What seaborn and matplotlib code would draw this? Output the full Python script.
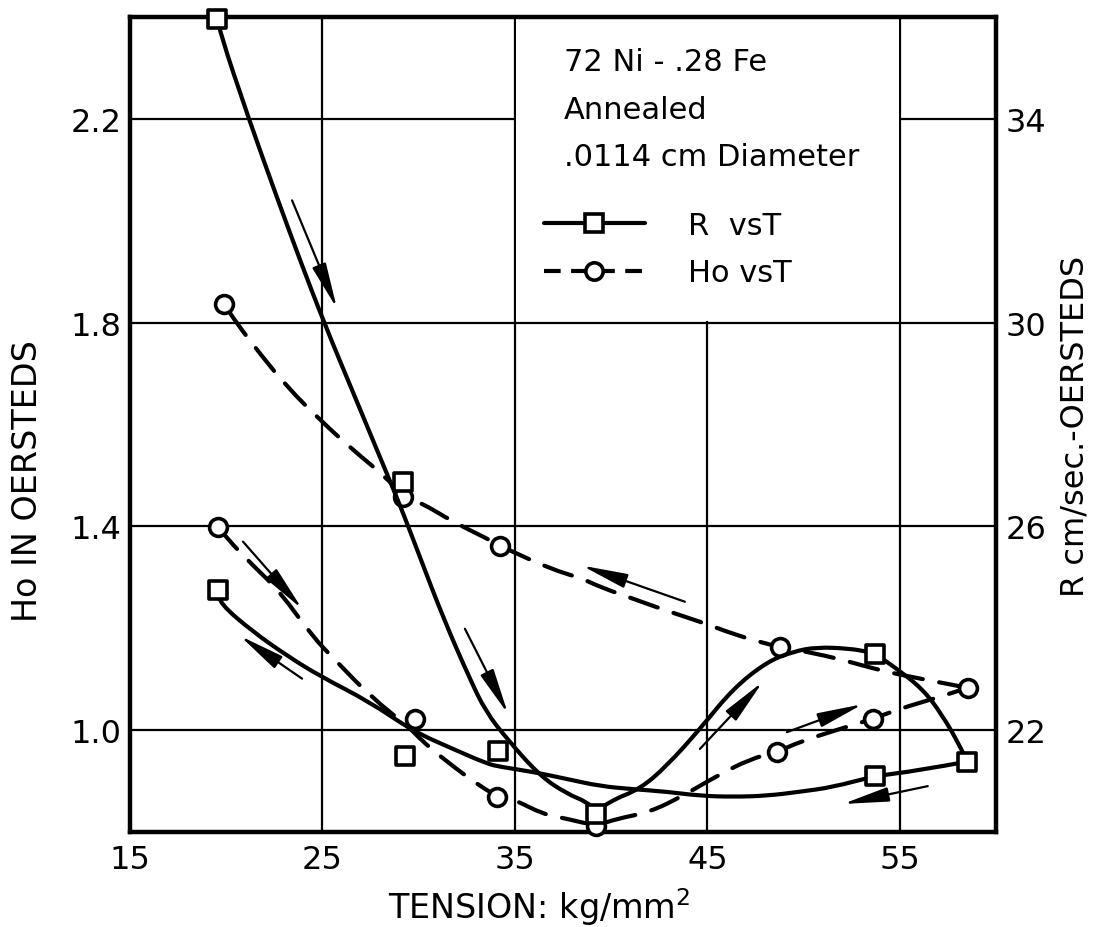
"""
Coercive force Ho and R against tension for annealed 72 Ni - .28 Fe wire.
"""
import seaborn as sns
import matplotlib.pyplot as plt
from matplotlib.lines import Line2D
from matplotlib.patches import Rectangle, PathPatch
from matplotlib.path import Path

# R (cm/sec.-oersteds) measured points, the squares
r_pts_t = [19.52, 29.18, 39.21, 53.70, 58.48, 53.70, 34.10, 29.30, 19.57]
r_pts_r = [35.97, 26.88, 20.35, 23.50, 21.38, 21.10, 21.59, 21.49, 24.75]

# Ho (oersteds) measured points, the circles
h_pts_t = [19.88, 29.18, 34.22, 48.77, 58.53, 19.57, 29.80, 34.07, 39.21, 48.61, 53.60]
h_pts_h = [1.837, 1.458, 1.362, 1.163, 1.083, 1.399, 1.022, 0.869, 0.812, 0.957, 1.022]

# hand drawn R curve: falling branch, hump, return branch
r_down_t = [19.52, 19.65, 21.16, 22.65, 23.80, 25.08, 26.72, 28.45, 29.16, 30.10,
            31.30, 32.65, 33.49, 34.58, 36.30, 37.70, 38.74, 39.21]
r_down_r = [35.97, 35.72, 34.01, 32.44, 31.26, 30.00, 28.51, 26.94, 26.29, 25.36,
            24.18, 23.01, 22.36, 21.83, 21.10, 20.75, 20.59, 20.41]
r_hump_t = [39.21, 39.94, 41.49, 42.90, 44.61, 46.32, 48.09, 49.44, 50.69, 52.40,
            53.29, 53.70, 54.64, 56.19, 57.23, 58.12, 58.48]
r_hump_r = [20.40, 20.61, 20.84, 21.30, 22.02, 22.81, 23.34, 23.54, 23.63, 23.60,
            23.54, 23.50, 23.26, 22.81, 22.28, 21.69, 21.38]
r_back_t = [58.48, 55.88, 53.70, 51.52, 49.81, 48.09, 46.32, 44.61, 42.90, 41.13,
            39.42, 37.70, 35.94, 34.22, 33.55, 31.78, 29.70, 27.47, 24.87, 23.16,
            21.39, 19.68, 19.57]
r_back_r = [21.38, 21.20, 21.10, 20.88, 20.79, 20.71, 20.69, 20.71, 20.79, 20.84,
            20.90, 21.04, 21.18, 21.28, 21.34, 21.63, 21.98, 22.55, 23.06, 23.46,
            23.93, 24.48, 24.75]

# hand drawn Ho curve: lower (loading) branch, upper (unloading) branch
h_up_t = [19.57, 20.04, 21.39, 22.79, 24.45, 25.75, 27.47, 29.60, 30.06, 31.10,
          32.66, 34.07, 34.90, 36.45, 37.70, 39.21, 40.30, 42.01, 43.73, 45.49,
          47.21, 48.61, 49.81, 51.52, 53.60, 55.00, 56.71, 58.53]
h_up_h = [1.399, 1.376, 1.323, 1.272, 1.185, 1.134, 1.067, 1.002, 0.983, 0.949,
          0.904, 0.869, 0.865, 0.835, 0.826, 0.812, 0.826, 0.839, 0.871, 0.910,
          0.943, 0.957, 0.977, 0.998, 1.022, 1.042, 1.061, 1.083]
h_back_t = [58.53, 56.04, 54.12, 52.40, 50.69, 48.77, 47.73, 46.32, 44.61, 42.90,
            41.13, 39.42, 38.53, 36.82, 34.90, 34.22, 33.55, 31.78, 30.06, 29.18,
            28.35, 26.58, 24.87, 23.16, 21.75, 20.56, 19.88]
h_back_h = [1.083, 1.101, 1.116, 1.134, 1.150, 1.163, 1.173, 1.189, 1.213, 1.234,
            1.258, 1.281, 1.297, 1.317, 1.350, 1.362, 1.376, 1.409, 1.448, 1.458,
            1.495, 1.550, 1.609, 1.674, 1.739, 1.798, 1.837]

# direction arrows (tail -> head), in tension / Ho units
arrow_tail_t = [23.42, 32.40, 20.87, 23.94, 43.83, 44.61, 49.13, 56.45]
arrow_tail_h = [2.040, 1.199, 1.370, 1.101, 1.252, 0.963, 0.996, 0.890]
arrow_head_t = [25.75, 34.64, 23.94, 20.71, 38.48, 47.88, 53.08, 52.04]
arrow_head_h = [1.828, 1.032, 1.238, 1.185, 1.323, 1.095, 1.051, 0.855]

x_ticks = [15, 25, 35, 45, 55]
h_ticks = [1.0, 1.4, 1.8, 2.2]
r_ticks = [22, 26, 30, 34]


def curve(ax, ts, vs, **kw):
    # french-curve style: traced points used as quadratic control points
    pts = list(zip(ts, vs))
    verts = [pts[0]]
    codes = [Path.MOVETO]
    for i in range(1, len(pts) - 1):
        mid = ((pts[i][0] + pts[i + 1][0]) / 2, (pts[i][1] + pts[i + 1][1]) / 2)
        verts += [pts[i], mid]
        codes += [Path.CURVE3, Path.CURVE3]
    verts.append(pts[-1])
    codes.append(Path.LINETO)
    ax.add_patch(PathPatch(Path(verts, codes), fill=False, edgecolor='black',
                           lw=3, capstyle='round', joinstyle='round', zorder=2, **kw))


sns.set_style('white')
plt.rcParams['font.family'] = ['DejaVu Sans']
plt.rcParams['mathtext.fontset'] = 'dejavusans'
for k in ['text.color', 'axes.labelcolor', 'xtick.color', 'ytick.color']:
    plt.rcParams[k] = 'black'

fig = plt.figure(figsize=(11.01, 9.28), dpi=100)
ax = fig.add_axes([0.1181, 0.1024, 0.7866, 0.8782])
ax2 = ax.twinx()

ax.set_xlim(15, 60)
ax.set_ylim(0.8, 2.4)
ax2.set_ylim(20, 36)

ax.set_axisbelow(True)
ax.grid(True, color='black', lw=1.6)
ax2.grid(False)
# blank patch behind the caption
ax.add_patch(Rectangle((35.07, 1.803), 19.86, 0.62, facecolor='white',
                       edgecolor='none', zorder=0.8))

curve(ax, h_up_t, h_up_h, linestyle=(0, (7, 4)))
curve(ax, h_back_t, h_back_h, linestyle=(0, (7, 4)))
sns.scatterplot(x=h_pts_t, y=h_pts_h, ax=ax, marker='o', s=165, color='white',
                edgecolor='black', linewidth=2.6, zorder=5, clip_on=False)

curve(ax2, r_down_t, r_down_r)
curve(ax2, r_hump_t, r_hump_r)
curve(ax2, r_back_t, r_back_r)
sns.scatterplot(x=r_pts_t, y=r_pts_r, ax=ax2, marker='s', s=160, color='white',
                edgecolor='black', linewidth=2.6, zorder=5, clip_on=False)

for t0, h0, t1, h1 in zip(arrow_tail_t, arrow_tail_h, arrow_head_t, arrow_head_h):
    ax.annotate('', xy=(t1, h1), xytext=(t0, h0),
                arrowprops=dict(arrowstyle='-|>,head_length=1.4,head_width=0.22',
                                color='black', lw=1.6, mutation_scale=20,
                                shrinkA=0, shrinkB=0))

ax.set_xticks(x_ticks)
ax.set_yticks(h_ticks)
ax2.set_yticks(r_ticks)
ax.tick_params(length=0, labelsize=23)
ax.tick_params(axis='x', pad=9)
ax.tick_params(axis='y', pad=6)
ax2.tick_params(length=0, labelsize=23, pad=7)

for s in ax.spines.values():
    s.set_linewidth(3.2)
    s.set_color('black')
for s in ax2.spines.values():
    s.set_visible(False)

ax.set_xlabel('TENSION: kg/mm$^2$', fontsize=24)
ax.xaxis.set_label_coords(0.473, -0.091)
ax.xaxis.label.set_va('center')
ax.set_ylabel('Ho IN OERSTEDS', fontsize=24)
ax.yaxis.set_label_coords(-0.118, 0.432)
ax.yaxis.label.set_va('center')
ax2.set_ylabel('R cm/sec.-OERSTEDS', fontsize=23)
ax2.yaxis.set_label_coords(1.091, 0.499)
ax2.yaxis.label.set_va('center')

for txt, yy in [('72 Ni - .28 Fe', 0.945), ('Annealed', 0.887),
                ('.0114 cm Diameter', 0.829)]:
    ax.text(0.501, yy, txt, transform=ax.transAxes, fontsize=22,
            ha='left', va='center', zorder=6)

handles = [Line2D([], [], color='black', lw=3, marker='s', ms=12.5,
                  mfc='white', mec='black', mew=2.6),
           Line2D([], [], color='black', lw=3, linestyle=(0, (4, 2.5)),
                  marker='o', ms=12.5, mfc='white', mec='black', mew=2.6)]
ax2.legend(handles, ['R  vsT', 'Ho vsT'], loc='center left',
           bbox_to_anchor=(0.478, 0.715), frameon=False, fontsize=22,
           handlelength=3.3, handletextpad=1.4, labelspacing=0.6,
           borderpad=0, borderaxespad=0)

fig.savefig('out.png', dpi=100)
